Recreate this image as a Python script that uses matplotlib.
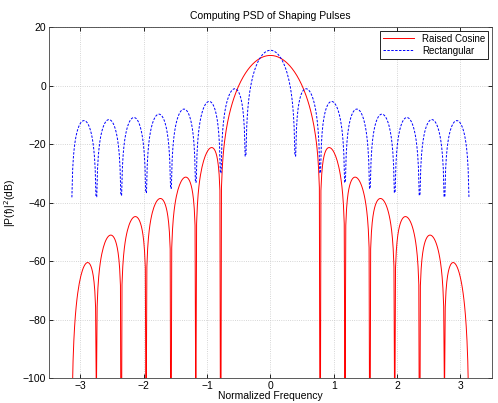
import numpy as np
import matplotlib
matplotlib.use("Agg")
import matplotlib.pyplot as plt

plt.rcParams['font.family'] = ['Liberation Sans', 'DejaVu Sans']

# Pulse samples (16 samples per symbol, unit energy)
rect_pulse = [0.25, 0.25, 0.25, 0.25, 0.25, 0.25, 0.25, 0.25,
              0.25, 0.25, 0.25, 0.25, 0.25, 0.25, 0.25, 0.25]
rc_pulse = [0.0, 0.01553890, 0.05978664, 0.12600982, 0.20412415, 0.28223848,
            0.34846166, 0.39270940, 0.40824829, 0.39270940, 0.34846166,
            0.28223848, 0.20412415, 0.12600982, 0.05978664, 0.01553890]
n_freq = 512
x_ticks = [-3, -2, -1, 0, 1, 2, 3]
y_ticks = [-100, -80, -60, -40, -20, 0, 20]


def psd_db(pulse, w):
    n = np.arange(len(pulse))
    P = np.exp(-1j * np.outer(w, n)) @ np.asarray(pulse)
    return 10 * np.log10(np.maximum(np.abs(P) ** 2, 1e-40))


step = 2 * np.pi / n_freq
w_rc = -np.pi + step * np.arange(n_freq + 1)
w_rect = -np.pi + step * (np.arange(n_freq) + 0.5)

fig = plt.figure(figsize=(4.98, 4.03), dpi=100)
ax = fig.add_axes([0.098, 0.062, 0.89, 0.871])

ax.plot(w_rc, psd_db(rc_pulse, w_rc), color='red', lw=0.7, label='Raised Cosine')
ax.plot(w_rect, psd_db(rect_pulse, w_rect), color='blue', lw=0.7,
        linestyle=(0, (2.5, 1.5)), label='Rectangular')

ax.set_xlim(-3.5, 3.5)
ax.set_ylim(-100, 20)
ax.set_xticks(x_ticks)
ax.set_yticks(y_ticks)
ax.tick_params(direction='in', top=True, right=True, labelsize=7.5, length=3,
               width=0.6, pad=2)
ax.grid(True, color='#c8c8c8', linestyle=':', linewidth=0.6)
for s in ax.spines.values():
    s.set_linewidth(0.6)
    s.set_color('#404040')

ax.set_title('Computing PSD of Shaping Pulses', fontsize=7.5, pad=6)
ax.set_xlabel('Normalized Frequency', fontsize=7.5, labelpad=0.5)
ax.set_ylabel(r'|P(f)|$^2$(dB)', fontsize=7.5, labelpad=3)

leg = ax.legend(loc='upper right', fontsize=7, fancybox=False, framealpha=1,
                edgecolor='black', borderpad=0.3, handlelength=3.2,
                borderaxespad=0.4, labelspacing=0.2)
leg.get_frame().set_linewidth(0.6)

fig.savefig('out.png', dpi=100)
